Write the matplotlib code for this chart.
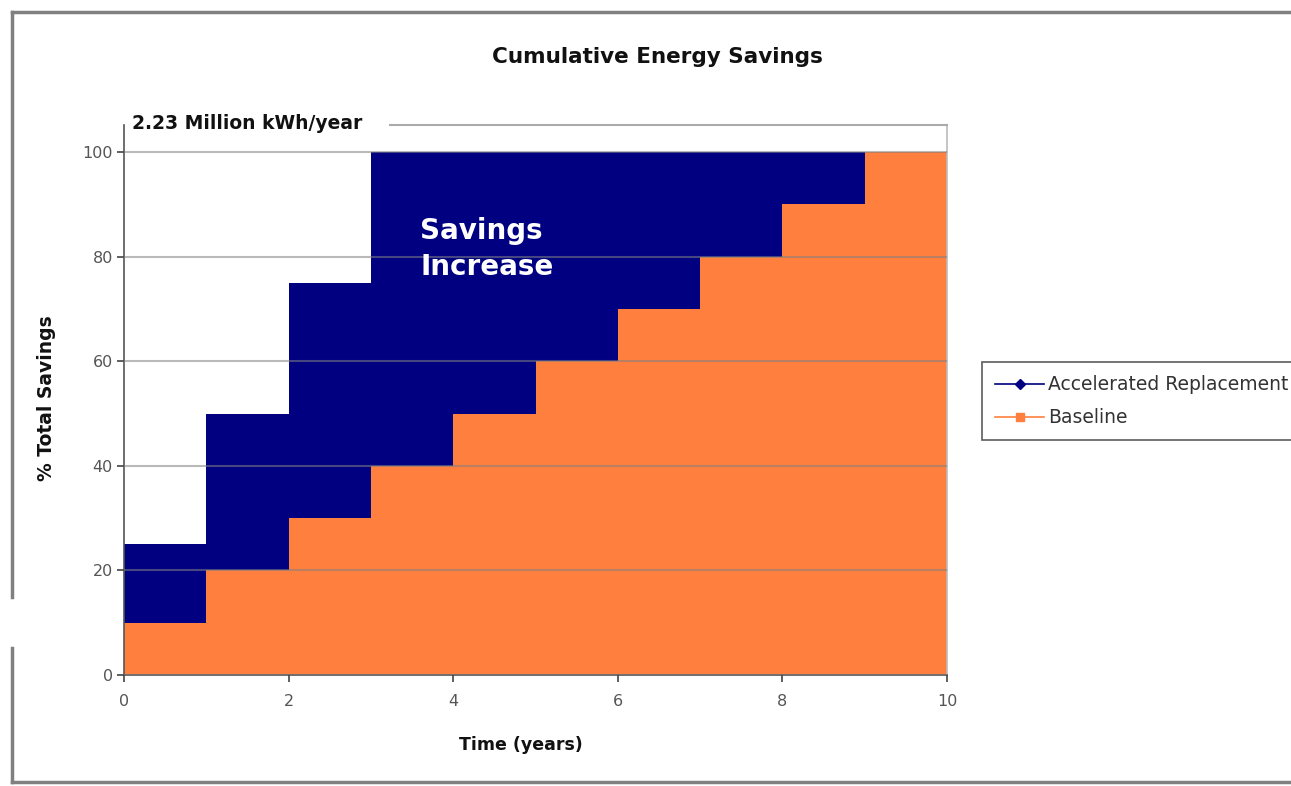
import matplotlib
matplotlib.use("Agg")
import matplotlib.pyplot as plt
from matplotlib.lines import Line2D
import numpy as np

years = [0, 1, 2, 3, 4, 5, 6, 7, 8, 9, 10]
accelerated = [25, 50, 75, 100, 100, 100, 100, 100, 100, 100, 100]
baseline = [10, 20, 30, 40, 50, 60, 70, 80, 90, 100, 100]
xticks = [0, 2, 4, 6, 8, 10]
yticks = [0, 20, 40, 60, 80, 100]

NAVY = "#000080"
ORANGE = "#FF7F3F"
TICKC = "#444444"
YTOP = 105.2

plt.rcParams['font.family'] = ['DejaVu Sans']

fig = plt.figure(figsize=(12.91, 7.86), dpi=100)
ax = fig.add_axes([124/1291, 1-675/786, (947-124)/1291, (675-125)/786])

ax.fill_between(years, 0, accelerated, step='post', color=NAVY, linewidth=0, zorder=1)
ax.fill_between(years, 0, baseline, step='post', color=ORANGE, linewidth=0, zorder=2)

ax.set_xlim(0, 10)
ax.set_ylim(0, YTOP)
ax.set_xticks(xticks)
ax.set_yticks(yticks)
ax.yaxis.grid(True, color="#808080", alpha=0.55, linewidth=1.5, zorder=3)
ax.set_axisbelow(False)
ax.spines['top'].set_visible(False)
ax.spines['right'].set_color("#bbbbbb")
ax.spines['right'].set_linewidth(1.2)
for s in ['left', 'bottom']:
    ax.spines[s].set_color("#555555")
    ax.spines[s].set_linewidth(1.2)
# top border line begins after the annotation
ax.plot([3.23, 10], [YTOP, YTOP], color="#aaaaaa", linewidth=1.5, clip_on=False, zorder=4)

ax.tick_params(axis='both', colors=TICKC, labelsize=11.5, length=5, width=1.2, direction='out')
ax.tick_params(axis='x', pad=9)
ax.tick_params(axis='y', pad=3)
for lbl in ax.get_xticklabels() + ax.get_yticklabels():
    lbl.set_color("#555555")

ax.set_xlabel("Time (years)", fontsize=12.5, fontweight='bold', color="#111111")
ax.xaxis.set_label_coords((521-124)/823, -(745-675)/550)
ax.xaxis.label.set_va('center')
ax.set_ylabel("% Total Savings", fontsize=13.5, fontweight='bold', color="#111111")
ax.yaxis.set_label_coords(-(124-47)/823, (675-398)/550)
ax.yaxis.label.set_va('center')

fig.text(657/1291, 1-57/786, "Cumulative Energy Savings", fontsize=15.5, fontweight='bold',
         ha='center', va='center', color="#111111")

ax.text(0.1, YTOP + 0.2, "2.23 Million kWh/year", fontsize=13.5, fontweight='bold', color="#111111",
        ha='left', va='center', zorder=5)

ax.text(3.6, 81.5, "Savings\nIncrease", fontsize=20, fontweight='bold', color="white",
        ha='left', va='center', linespacing=1.4, zorder=5)

handles = [Line2D([0], [0], color=NAVY, marker='D', markersize=5, linewidth=1.2),
           Line2D([0], [0], color=ORANGE, marker='s', markersize=6, linewidth=1.2)]
leg = fig.legend(handles, ["Accelerated Replacement", "Baseline"],
                 loc='upper left', bbox_to_anchor=(982/1291, 1-362/786),
                 frameon=True, fancybox=False, fontsize=13.5, handlelength=2.6,
                 handletextpad=0.2, borderpad=0.7, labelspacing=0.75, borderaxespad=0)
leg.get_frame().set_edgecolor("#333333")
leg.get_frame().set_linewidth(1.2)
for t in leg.get_texts():
    t.set_color("#333333")

# outer chart frame
def fl(x0, y0, x1, y1):
    fig.add_artist(Line2D([x0/1291, x1/1291], [1-y0/786, 1-y1/786], color="#808080",
                          linewidth=2.5, transform=fig.transFigure))
fl(12, 12, 1291, 12)
fl(12, 12, 12, 597)
fl(12, 648, 12, 782)
fl(12, 782, 1291, 782)

fig.savefig("out.png", dpi=100)
